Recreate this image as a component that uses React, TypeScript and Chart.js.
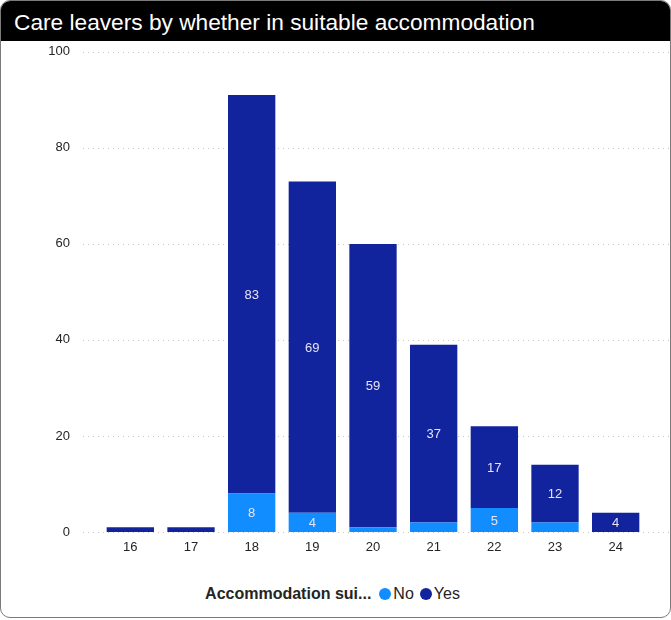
import React, { useEffect, useRef } from "react";
import { Chart, registerables } from "chart.js";

Chart.register(...registerables);

const categories = ["16", "17", "18", "19", "20", "21", "22", "23", "24"];
const noValues = [0, 0, 8, 4, 1, 2, 5, 2, 0];
const yesValues = [1, 1, 83, 69, 59, 37, 17, 12, 4];
const yTicks = [0, 20, 40, 60, 80, 100];
const title = "Care leavers by whether in suitable accommodation";
const legendTitle = "Accommodation sui...";
const seriesNames = ["No", "Yes"];
const seriesColors = ["#118DFF", "#12239E"];

const FONT = "'Liberation Sans', Arial, sans-serif";

export default function App() {
  const ref = useRef<HTMLCanvasElement | null>(null);

  useEffect(() => {
    document.body.style.margin = "0";
    const canvas = ref.current;
    if (!canvas) return;

    const gridPlugin = {
      id: "dottedGrid",
      beforeDatasetsDraw(chart: any) {
        const { ctx, chartArea, scales } = chart;
        ctx.save();
        ctx.strokeStyle = "#c8c8c8";
        ctx.lineWidth = 1;
        ctx.setLineDash([1, 4]);
        for (const t of yTicks) {
          const y = Math.round(scales.y.getPixelForValue(t)) + 0.5;
          ctx.beginPath();
          ctx.moveTo(chartArea.left - 17, y);
          ctx.lineTo(chartArea.right + 23, y);
          ctx.stroke();
        }
        ctx.restore();
      },
    };

    const labelPlugin = {
      id: "segLabels",
      afterDatasetsDraw(chart: any) {
        const { ctx } = chart;
        ctx.save();
        ctx.fillStyle = "#e4e4f4";
        ctx.font = `13px ${FONT}`;
        ctx.textAlign = "center";
        ctx.textBaseline = "middle";
        chart.data.datasets.forEach((ds: any, di: number) => {
          const meta = chart.getDatasetMeta(di);
          meta.data.forEach((el: any, i: number) => {
            const v = ds.data[i];
            if (v >= 4) {
              const y = (el.y + el.base) / 2;
              ctx.fillText(String(v), el.x, y + 1);
            }
          });
        });
        ctx.restore();
      },
    };

    const chart = new Chart(canvas, {
      type: "bar",
      data: {
        labels: categories,
        datasets: [
          {
            label: seriesNames[0],
            data: noValues,
            backgroundColor: seriesColors[0],
            barPercentage: 0.78,
            categoryPercentage: 1,
          },
          {
            label: seriesNames[1],
            data: yesValues,
            backgroundColor: seriesColors[1],
            barPercentage: 0.78,
            categoryPercentage: 1,
          },
        ],
      },
      options: {
        animation: false,
        responsive: false,
        maintainAspectRatio: false,
        layout: { padding: { top: 12, right: 24, left: 0, bottom: 0 } },
        plugins: {
          legend: { display: false },
          tooltip: { enabled: false },
        },
        scales: {
          x: {
            stacked: true,
            grid: { display: false, drawTicks: false },
            border: { display: false },
            ticks: {
              color: "#252423",
              font: { family: FONT, size: 13 },
              padding: 8,
              maxRotation: 0,
            },
            afterFit(scale: any) {
              scale.height = 39;
            },
          },
          y: {
            stacked: true,
            min: 0,
            max: 100,
            grid: { display: false, drawTicks: false },
            border: { display: false },
            ticks: {
              stepSize: 20,
              color: "#252423",
              font: { family: FONT, size: 13 },
              padding: 30,
            },
            afterFit(scale: any) {
              scale.width = 99;
            },
          },
        },
      },
      plugins: [gridPlugin, labelPlugin],
    });

    return () => chart.destroy();
  }, []);

  return (
    <div
      style={{
        position: "absolute",
        left: 0,
        top: 0,
        width: 669,
        height: 616,
        border: "1px solid #7a7a7a",
        borderRadius: 10,
        overflow: "hidden",
        background: "#fff",
        fontFamily: FONT,
      }}
    >
      <div
        style={{
          height: 40,
          background: "#000",
          color: "#fff",
          fontSize: 22.7,
          lineHeight: "42px",
          paddingLeft: 13,
          whiteSpace: "nowrap",
        }}
      >
        {title}
      </div>
      <canvas
        ref={ref}
        width={669}
        height={557}
        style={{ position: "absolute", left: 0, top: 13, width: 669, height: 557 }}
      />
      <div
        style={{
          position: "absolute",
          top: 583,
          left: 0,
          width: 669,
          display: "flex",
          justifyContent: "center",
          alignItems: "center",
          fontSize: 16,
          color: "#252423",
          lineHeight: "20px",
        }}
      >
        <span style={{ fontWeight: "bold", marginRight: 8 }}>{legendTitle}</span>
        {seriesNames.map((n, i) => (
          <span key={n} style={{ display: "flex", alignItems: "center", marginRight: 6 }}>
            <span
              style={{
                width: 12,
                height: 12,
                borderRadius: "50%",
                background: seriesColors[i],
                display: "inline-block",
                marginRight: 2,
              }}
            />
            {n}
          </span>
        ))}
      </div>
    </div>
  );
}
